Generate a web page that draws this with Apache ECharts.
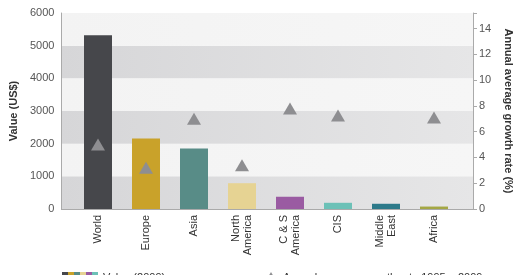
<!DOCTYPE html>
<html>
<head>
<meta charset="utf-8">
<script src="https://cdn.jsdelivr.net/npm/echarts@6/dist/echarts.min.js"></script>
<style>
  html, body { margin: 0; padding: 0; background: #ffffff; }
  #chart { width: 531px; height: 275px; }
</style>
</head>
<body>
<div id="chart"></div>
<script>
// regions and values
let categories = ['World', 'Europe', 'Asia', 'North\nAmerica', 'C & S\nAmerica', 'CIS', 'Middle\nEast', 'Africa'];
let values2009 = [5320, 2160, 1850, 790, 375, 190, 160, 75];
let growthRate = [5.0, 3.2, 7.0, 3.4, 7.8, 7.25, '-', 7.1];
let barColors = ['#46474b', '#c9a22a', '#588c87', '#e6d393', '#9a5ba2', '#6cc1b7', '#2d7a8a', '#a4a744'];
let valueTicks = [0, 1000, 2000, 3000, 4000, 5000, 6000];
let rateTicks = [0, 2, 4, 6, 8, 10, 12, 14];

let font = 'Liberation Sans, Arial, sans-serif';

// little strip of bar colours for the first legend icon
let stripSvg = '<svg xmlns="http://www.w3.org/2000/svg" width="36" height="12">' +
  barColors.slice(0, 6).map((c, i) => '<rect x="' + (i * 6) + '" y="0" width="6" height="12" fill="' + c + '"/>').join('') +
  '</svg>';
let stripIcon = 'image://data:image/svg+xml;charset=utf-8,' + encodeURIComponent(stripSvg);

let eChart = echarts.init(document.getElementById('chart'));

let bandColor = function(from, to) {
  return {
    type: 'linear', x: 0, y: 0, x2: 1, y2: 0,
    colorStops: [{ offset: 0, color: from }, { offset: 1, color: to }]
  };
};

let option = {
  animation: false,
  textStyle: { fontFamily: font },
  grid: [
    { left: 57, right: 58, top: 13, bottom: 66 },
    { left: 74, right: 73, top: 13, bottom: 66 }
  ],
  legend: [
    {
      data: [{ name: 'Value (2009)', icon: stripIcon }],
      left: 57, top: 267,
      itemWidth: 36, itemHeight: 12,
      textStyle: { fontSize: 11, color: '#333', fontFamily: font }
    },
    {
      data: [{ name: 'Annual average growth rate 1995 – 2009', icon: 'triangle' }],
      left: 259, top: 267,
      itemWidth: 14, itemHeight: 12,
      textStyle: { fontSize: 11, color: '#333', fontFamily: font }
    }
  ],
  xAxis: [
    {
      type: 'value', gridIndex: 0, min: 0, max: 1,
      axisLine: { show: true, onZero: false, lineStyle: { color: '#aaaaaa' } },
      axisTick: { show: false }, axisLabel: { show: false }, splitLine: { show: false }
    },
    {
      type: 'category', gridIndex: 1, data: categories,
      axisLine: { show: false }, axisTick: { show: false },
      axisLabel: {
        rotate: 90, margin: 6, interval: 0,
        fontSize: 11, color: '#333', lineHeight: 12, fontFamily: font
      }
    }
  ],
  yAxis: [
    {
      type: 'value', gridIndex: 0, position: 'left',
      min: valueTicks[0], max: valueTicks[valueTicks.length - 1], interval: 1000,
      name: 'Value (US$)', nameLocation: 'middle', nameGap: 36,
      nameTextStyle: { fontSize: 11, fontWeight: 'bold', color: '#333', fontFamily: font },
      axisLine: { show: true, lineStyle: { color: '#aaaaaa' } },
      axisTick: { show: false },
      axisLabel: {
        fontSize: 11, color: '#555', margin: 7, fontFamily: font,
        formatter: function(v) { return String(v); }
      },
      splitLine: { show: false },
      splitArea: {
        show: true,
        areaStyle: { color: [bandColor('#d6d6d8', '#e6e6e7'), bandColor('#f3f3f3', '#f6f6f6')] }
      }
    },
    {
      type: 'value', gridIndex: 0, position: 'right',
      min: rateTicks[0], max: 15.2, interval: 2,
      name: 'Annual average growth rate (%)', nameLocation: 'middle', nameGap: 29, nameRotate: -90,
      nameTextStyle: { fontSize: 11, fontWeight: 'bold', color: '#333', fontFamily: font },
      axisLine: { show: true, lineStyle: { color: '#aaaaaa' } },
      axisTick: { show: true, length: 4, lineStyle: { color: '#aaaaaa' } },
      axisLabel: {
        fontSize: 11, color: '#555', margin: 6, fontFamily: font,
        formatter: function(v) { return rateTicks.indexOf(v) >= 0 ? String(v) : ''; }
      },
      splitLine: { show: false }
    },
    {
      type: 'value', gridIndex: 1, min: valueTicks[0], max: valueTicks[valueTicks.length - 1],
      show: false, splitLine: { show: false }
    },
    {
      type: 'value', gridIndex: 1, min: rateTicks[0], max: 15.2,
      show: false, splitLine: { show: false }
    }
  ],
  series: [
    {
      name: 'Value (2009)', type: 'bar', xAxisIndex: 1, yAxisIndex: 2,
      barWidth: 28,
      data: values2009.map((v, i) => ({ value: v, itemStyle: { color: barColors[i] } }))
    },
    {
      name: 'Annual average growth rate 1995 – 2009', type: 'scatter', xAxisIndex: 1, yAxisIndex: 3,
      symbol: 'triangle', symbolSize: [14, 12],
      itemStyle: { color: '#8e8e91', opacity: 1 },
      data: growthRate,
      z: 3
    }
  ]
};

eChart.setOption(option, true);
</script>
</body>
</html>
